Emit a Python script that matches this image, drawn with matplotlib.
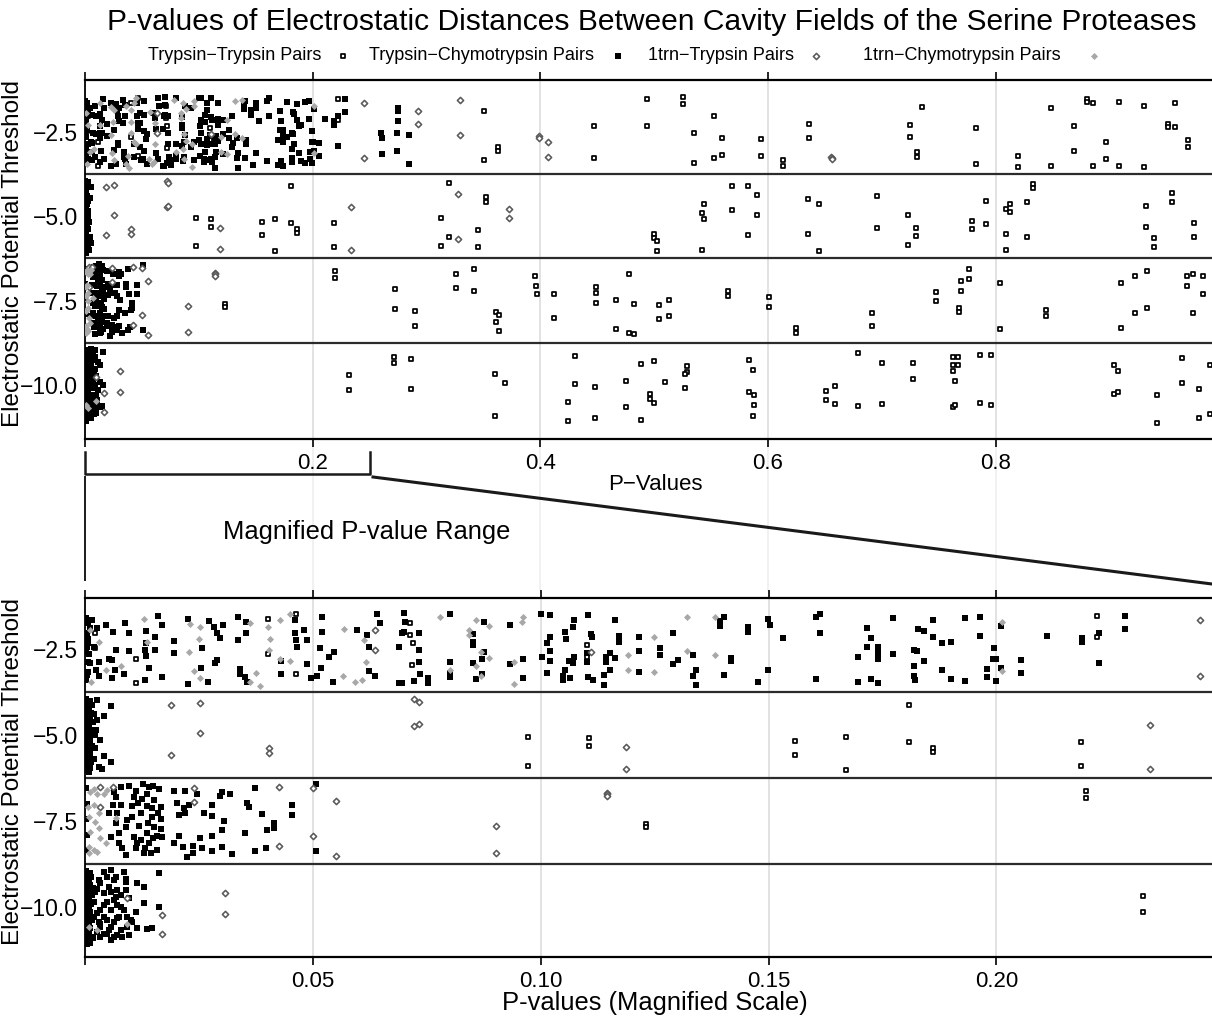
import matplotlib.pyplot as plt
import matplotlib.transforms as mtransforms
from matplotlib.lines import Line2D

plt.rcParams['font.family'] = ['Liberation Sans', 'DejaVu Sans']

# ---- data: (p-value, jittered threshold) ----
# Trypsin-Trypsin pairs (open squares)
TT_POINTS = [
    # -2.5
    (0.0022, -2.04), (0.0021, -2.48), (0.0112, -2.79), (0.0112, -3.50), (0.0402, -1.64), (0.0402, -2.66),
    (0.0462, -1.49), (0.0462, -3.23), (0.0714, -1.75), (0.0714, -2.09), (0.0719, -2.32), (0.0718, -2.97),
    (0.1102, -2.39), (0.1102, -2.74), (0.2221, -1.54), (0.2221, -2.16),
    (0.3502, -1.89), (0.3502, -3.34), (0.3625, -2.95), (0.3625, -3.07), (0.4468, -2.33), (0.4468, -3.28),
    (0.4934, -1.53), (0.4934, -2.33), (0.5251, -1.47), (0.5251, -1.68), (0.5523, -2.03), (0.5347, -2.54),
    (0.5593, -2.69), (0.5523, -3.28), (0.5593, -3.19), (0.5347, -3.42), (0.5936, -2.71), (0.5936, -3.22),
    (0.6129, -3.34), (0.6129, -3.51), (0.6357, -2.27), (0.6357, -2.69), (0.7350, -1.77), (0.7245, -2.30),
    (0.7245, -2.66), (0.7306, -3.10), (0.7306, -3.25), (0.7825, -2.39), (0.7825, -3.45), (0.8194, -3.22),
    (0.8194, -3.54), (0.8484, -1.80), (0.8484, -3.51), (0.8686, -2.33), (0.8686, -3.07), (0.8800, -1.53),
    (0.8800, -1.62), (0.8853, -1.65), (0.8967, -2.80), (0.8967, -3.31), (0.9082, -1.62), (0.9082, -3.51),
    (0.8853, -3.51), (0.9301, -1.74), (0.9301, -3.54), (0.9512, -2.27), (0.9512, -2.36), (0.9574, -1.65),
    (0.9574, -2.36), (0.9688, -2.74), (0.9688, -2.95),
    # -5.0
    (0.0971, -5.05), (0.0971, -5.89), (0.1107, -5.08), (0.1107, -5.33), (0.1558, -5.18), (0.1558, -5.57),
    (0.1670, -5.07), (0.1670, -6.03), (0.1809, -4.12), (0.1809, -5.20), (0.1860, -5.38), (0.1860, -5.50),
    (0.2186, -5.21), (0.2186, -5.91),
    (0.3194, -4.02), (0.3124, -5.05), (0.3194, -5.61), (0.3124, -5.88), (0.3520, -4.43), (0.3520, -4.58),
    (0.3449, -5.41), (0.3449, -5.91), (0.4996, -5.53), (0.4996, -5.64), (0.5022, -5.73), (0.5022, -6.03),
    (0.5435, -4.64), (0.5417, -4.90), (0.5435, -5.08), (0.5417, -6.00), (0.5681, -4.11), (0.5681, -4.82),
    (0.5822, -4.11), (0.5900, -4.37), (0.5900, -4.96), (0.5822, -5.55), (0.6349, -4.49), (0.6445, -4.64),
    (0.6349, -5.53), (0.6445, -6.03), (0.6955, -4.40), (0.6955, -5.35), (0.7228, -4.96), (0.7298, -5.35),
    (0.7298, -5.58), (0.7228, -5.85), (0.7790, -5.14), (0.7790, -5.38), (0.7913, -4.55), (0.7913, -5.23),
    (0.8326, -4.05), (0.8326, -4.16), (0.8273, -4.58), (0.8124, -4.64), (0.8088, -4.79), (0.8124, -4.87),
    (0.8088, -5.53), (0.8088, -6.00), (0.8273, -5.61), (0.9319, -4.70), (0.9319, -5.32), (0.9389, -5.64),
    (0.9389, -5.91), (0.9547, -4.31), (0.9547, -4.58), (0.9741, -5.20), (0.9741, -5.61),
    # -7.5
    (0.1231, -7.60), (0.1231, -7.68), (0.2197, -6.62), (0.2197, -6.84),
    (0.2720, -7.15), (0.2720, -7.74), (0.2895, -7.80), (0.2895, -8.25), (0.3256, -6.71), (0.3256, -7.12),
    (0.3414, -6.56), (0.3414, -7.21), (0.3607, -7.83), (0.3634, -7.92), (0.3607, -8.13), (0.3634, -8.40),
    (0.3950, -6.77), (0.3959, -7.06), (0.3968, -7.30), (0.4117, -7.30), (0.4117, -8.01), (0.4486, -7.09),
    (0.4486, -7.27), (0.4486, -7.57), (0.4662, -7.48), (0.4662, -8.34), (0.4776, -6.71), (0.4820, -7.60),
    (0.4776, -8.45), (0.4820, -8.48), (0.5040, -7.63), (0.5040, -8.04), (0.5128, -7.48), (0.5128, -7.95),
    (0.5646, -7.21), (0.5646, -7.36), (0.6006, -7.39), (0.6006, -7.69), (0.6243, -8.31), (0.6243, -8.45),
    (0.6911, -7.86), (0.6911, -8.25), (0.7473, -7.24), (0.7473, -7.51), (0.7693, -6.92), (0.7693, -7.21),
    (0.7676, -7.71), (0.7676, -7.83), (0.7763, -6.56), (0.7763, -6.86), (0.8036, -6.97), (0.8036, -8.34),
    (0.8440, -7.77), (0.8440, -7.95), (0.9099, -6.97), (0.9099, -8.31), (0.9222, -6.77), (0.9222, -7.86),
    (0.9328, -6.62), (0.9328, -7.71), (0.9680, -6.77), (0.9732, -6.71), (0.9680, -7.06), (0.9820, -6.77),
    (0.9820, -7.30), (0.9732, -7.86),
    # -10.0
    (0.2322, -9.69), (0.2322, -10.15),
    (0.2711, -9.16), (0.2711, -9.34), (0.2860, -9.22), (0.2860, -10.11), (0.3599, -9.67), (0.3686, -9.93),
    (0.3599, -10.91), (0.4301, -9.13), (0.4301, -9.96), (0.4240, -10.50), (0.4240, -11.06), (0.4477, -10.05),
    (0.4477, -10.97), (0.4750, -9.87), (0.4750, -10.64), (0.4882, -9.37), (0.4882, -11.03), (0.4996, -9.28),
    (0.4960, -10.26), (0.4960, -10.41), (0.4996, -10.53), (0.5093, -9.90), (0.5286, -9.43), (0.5286, -9.61),
    (0.5268, -9.67), (0.5268, -10.08), (0.5830, -9.25), (0.5866, -9.55), (0.5830, -10.20), (0.5874, -10.29),
    (0.5874, -10.58), (0.5866, -10.91), (0.6788, -9.05), (0.6999, -9.34), (0.7271, -9.34), (0.7271, -9.82),
    (0.6507, -10.17), (0.6586, -10.02), (0.6507, -10.44), (0.6586, -10.55), (0.6788, -10.61), (0.6999, -10.55),
    (0.7623, -9.16), (0.7667, -9.16), (0.7623, -9.40), (0.7667, -9.40), (0.7623, -9.58), (0.7640, -9.87),
    (0.7623, -10.64), (0.7640, -10.58), (0.7860, -9.11), (0.7957, -9.11), (0.7860, -10.53), (0.7957, -10.58),
    (0.9038, -9.40), (0.9073, -9.58), (0.9038, -10.26), (0.9073, -10.20), (0.9416, -10.29), (0.9416, -11.12),
    (0.9636, -9.19), (0.9636, -9.93), (0.9785, -10.11), (0.9785, -10.97), (0.9882, -9.40), (0.9882, -10.85),
]

# Trypsin-Chymotrypsin pairs (filled black squares)
TC_POINTS = [
    # -2.5
    (0.0006, -1.75), (0.0011, -1.90), (0.0007, -2.22), (0.0006, -2.34), (0.0003, -2.58), (0.0006, -2.87),
    (0.0012, -2.92), (0.0007, -3.16), (0.0003, -3.40), (0.0027, -1.88), (0.0030, -2.87), (0.0025, -3.11),
    (0.0030, -3.30), (0.0005, -2.05), (0.0009, -2.65), (0.0004, -3.25), (0.0020, -2.45), (0.0015, -1.65),
    (0.0002, -1.60), (0.0004, -2.45),
    (0.0047, -1.80), (0.0062, -2.02), (0.0067, -2.53), (0.0060, -2.82), (0.0052, -2.79), (0.0065, -3.11),
    (0.0060, -3.33), (0.0087, -1.75), (0.0096, -2.03), (0.0096, -2.56), (0.0085, -3.24), (0.0133, -1.98),
    (0.0131, -2.53), (0.0134, -2.34), (0.0133, -2.70), (0.0141, -3.06), (0.0131, -3.40), (0.0153, -2.14),
    (0.0160, -1.54), (0.0169, -1.80), (0.0153, -2.53), (0.0170, -3.32), (0.0195, -2.27), (0.0195, -2.63),
    (0.0226, -1.64), (0.0256, -2.46), (0.0255, -3.04), (0.0226, -3.52), (0.0270, -3.45), (0.0272, -1.68),
    (0.0283, -1.85), (0.0303, -1.80), (0.0290, -2.04), (0.0297, -2.19), (0.0290, -2.82), (0.0286, -2.90),
    (0.0335, -1.56), (0.0335, -2.24), (0.0354, -1.71), (0.0354, -2.04), (0.0341, -3.09), (0.0340, -3.24),
    (0.0352, -3.32), (0.0356, -3.45), (0.0430, -2.85), (0.0430, -3.24), (0.0460, -1.66), (0.0460, -2.03),
    (0.0480, -1.95), (0.0462, -2.24), (0.0465, -2.43), (0.0487, -2.24), (0.0487, -2.95), (0.0496, -3.33),
    (0.0508, -3.30), (0.0517, -3.06), (0.0520, -1.58), (0.0520, -2.00), (0.0515, -2.48), (0.0536, -2.72),
    (0.0546, -2.58), (0.0544, -3.45), (0.0597, -1.95), (0.0619, -2.09), (0.0623, -2.43), (0.0623, -3.13),
    (0.0637, -3.30), (0.0641, -1.49), (0.0648, -1.75), (0.0688, -3.50), (0.0688, -2.43),
    (0.0700, -1.46), (0.0703, -1.71), (0.0700, -2.00), (0.0696, -2.04), (0.0696, -3.50), (0.0732, -2.04),
    (0.0732, -2.53), (0.0732, -2.87), (0.0735, -3.24), (0.0721, -3.43), (0.0752, -3.35), (0.0752, -3.48),
    (0.0800, -1.49), (0.0800, -2.87), (0.0800, -3.21), (0.0800, -3.32), (0.0851, -2.06), (0.0851, -2.29),
    (0.0851, -2.39), (0.0875, -1.73), (0.0875, -2.60), (0.0851, -2.92), (0.0872, -2.79), (0.0872, -3.24),
    (0.0859, -3.38), (0.0932, -1.80), (0.0932, -2.95), (0.0961, -2.80), (0.0961, -3.35), (0.1001, -1.49),
    (0.1020, -1.51), (0.1014, -2.32), (0.1020, -2.16), (0.1020, -2.55), (0.1002, -2.74), (0.1020, -2.85),
    (0.1013, -3.21), (0.1053, -2.02), (0.1056, -2.22), (0.1070, -1.87), (0.1074, -1.66), (0.1074, -2.72),
    (0.1063, -2.85), (0.1070, -2.90), (0.1053, -3.11), (0.1048, -3.30), (0.1048, -3.40), (0.1064, -3.35),
    (0.1104, -1.51), (0.1102, -2.61), (0.1102, -2.87), (0.1110, -2.07), (0.1113, -2.16), (0.1104, -3.32),
    (0.1114, -3.40), (0.1138, -3.26), (0.1138, -3.56), (0.1151, -2.63), (0.1144, -2.74), (0.1144, -2.87),
    (0.1151, -3.11), (0.1164, -1.66), (0.1164, -2.77), (0.1172, -2.11), (0.1171, -2.31), (0.1215, -2.14),
    (0.1215, -2.56), (0.1215, -3.16), (0.1261, -2.46), (0.1261, -2.69), (0.1290, -2.04), (0.1290, -2.94),
    (0.1301, -2.82), (0.1334, -2.68), (0.1340, -3.12), (0.1334, -3.29), (0.1340, -3.56), (0.1393, -1.68),
    (0.1393, -1.83), (0.1402, -1.58), (0.1402, -3.27), (0.1418, -2.75), (0.1418, -2.85), (0.1455, -1.85),
    (0.1455, -2.00), (0.1476, -3.47), (0.1498, -1.64), (0.1504, -1.80), (0.1498, -3.12), (0.1531, -2.18),
    (0.1603, -1.58), (0.1612, -1.49), (0.1612, -2.04), (0.1603, -3.38), (0.1696, -2.74), (0.1696, -3.47),
    (0.1715, -1.90), (0.1724, -2.19), (0.1715, -2.45), (0.1739, -2.45), (0.1739, -2.63), (0.1739, -2.80),
    (0.1724, -3.38), (0.1739, -3.50), (0.1772, -1.61), (0.1772, -2.66), (0.1818, -2.53), (0.1826, -2.57),
    (0.1818, -3.00), (0.1818, -3.28), (0.1821, -3.40), (0.1827, -1.93), (0.1840, -1.99), (0.1840, -2.86),
    (0.1860, -1.67), (0.1860, -2.16), (0.1880, -2.34), (0.1880, -3.12), (0.1900, -2.31), (0.1900, -3.38),
    (0.1930, -1.61), (0.1930, -3.44), (0.1965, -1.58), (0.1965, -2.12), (0.1994, -2.48), (0.1992, -2.80),
    (0.1999, -2.80), (0.1979, -3.09), (0.1979, -3.32), (0.1998, -3.44), (0.2009, -1.84), (0.2009, -3.06),
    (0.2053, -2.83), (0.2053, -3.21), (0.2110, -2.12), (0.2187, -2.19), (0.2187, -2.31), (0.2226, -2.04),
    (0.2226, -2.92), (0.2281, -1.54), (0.2281, -1.93),
    (0.2746, -1.80), (0.2746, -1.89), (0.2746, -2.18), (0.2737, -2.54), (0.2843, -2.60), (0.2605, -2.69),
    (0.2597, -2.54), (0.2605, -3.16), (0.2737, -3.07), (0.2843, -3.45),
    # -5.0
    (0.0003, -3.95), (0.0010, -4.00), (0.0006, -4.07), (0.0015, -4.12), (0.0002, -4.18), (0.0009, -4.24),
    (0.0004, -4.30), (0.0013, -4.36), (0.0007, -4.41), (0.0002, -4.47), (0.0011, -4.53), (0.0005, -4.58),
    (0.0017, -4.63), (0.0003, -4.69), (0.0009, -4.75), (0.0006, -4.81), (0.0014, -4.86), (0.0002, -4.92),
    (0.0008, -4.98), (0.0004, -5.04), (0.0012, -5.10), (0.0006, -5.15), (0.0002, -5.21), (0.0010, -5.27),
    (0.0016, -5.32), (0.0004, -5.38), (0.0008, -5.44), (0.0002, -5.50), (0.0012, -5.55), (0.0005, -5.61),
    (0.0009, -5.67), (0.0003, -5.73), (0.0014, -5.79), (0.0007, -5.85), (0.0002, -5.91), (0.0011, -5.96),
    (0.0005, -6.02), (0.0009, -6.08), (0.0020, -4.40), (0.0022, -5.00), (0.0019, -5.70), (0.0024, -4.85),
    (0.0056, -4.15), (0.0041, -4.45), (0.0027, -4.56), (0.0034, -5.16), (0.0041, -5.60), (0.0056, -5.78),
    (0.0038, -6.00), (0.0027, -3.98), (0.0023, -5.39), (0.0030, -5.92),
    # -7.5
    (0.0003, -6.55), (0.0004, -7.00), (0.0002, -7.45), (0.0005, -7.90), (0.0003, -8.35),
    (0.0078, -6.50), (0.0096, -6.48), (0.0111, -6.62), (0.0127, -6.42), (0.0140, -6.52), (0.0150, -6.48),
    (0.0162, -6.58), (0.0063, -6.65), (0.0067, -6.79), (0.0062, -7.04), (0.0080, -7.02), (0.0103, -7.06),
    (0.0116, -6.97), (0.0125, -6.87), (0.0136, -7.06), (0.0152, -6.89), (0.0147, -7.11), (0.0160, -7.28),
    (0.0167, -7.45), (0.0052, -7.26), (0.0071, -7.28), (0.0093, -7.47), (0.0091, -7.67), (0.0118, -7.65),
    (0.0138, -7.57), (0.0151, -7.68), (0.0166, -7.74), (0.0056, -7.96), (0.0074, -8.15), (0.0091, -8.48),
    (0.0107, -7.96), (0.0114, -8.13), (0.0122, -8.05), (0.0131, -8.27), (0.0141, -8.13), (0.0150, -7.99),
    (0.0158, -7.94), (0.0169, -7.96), (0.0195, -6.62), (0.0219, -6.63), (0.0246, -6.70), (0.0301, -6.65),
    (0.0319, -6.72), (0.0297, -6.77), (0.0202, -6.99), (0.0217, -7.13), (0.0228, -7.02), (0.0206, -7.33),
    (0.0220, -7.28), (0.0261, -7.28), (0.0279, -7.02), (0.0279, -7.35), (0.0306, -7.49), (0.0356, -6.99),
    (0.0359, -7.08), (0.0389, -7.30), (0.0454, -7.03), (0.0454, -7.31), (0.0206, -7.94), (0.0195, -8.15),
    (0.0215, -8.25), (0.0237, -8.23), (0.0237, -8.42), (0.0253, -8.00), (0.0257, -8.27), (0.0279, -7.94),
    (0.0279, -8.37), (0.0301, -7.76), (0.0301, -8.25), (0.0323, -8.46), (0.0352, -7.86), (0.0374, -8.37),
    (0.0398, -8.29), (0.0400, -7.76), (0.0414, -7.57), (0.0414, -7.71), (0.0374, -6.55), (0.0506, -8.37),
    (0.0506, -6.43), (0.0224, -8.54), (0.0089, -8.49), (0.0144, -8.42), (0.0129, -8.44), (0.0103, -7.37),
    (0.0122, -7.28), (0.0074, -7.86), (0.0136, -7.86), (0.0158, -8.34), (0.0111, -8.29), (0.0082, -8.29),
    (0.0067, -7.57), (0.0147, -7.37), (0.0166, -7.08), (0.0107, -6.79), (0.0136, -6.70),
    # -10.0
    (0.0003, -8.95), (0.0010, -9.00), (0.0006, -9.06), (0.0014, -9.12), (0.0002, -9.18), (0.0009, -9.24),
    (0.0004, -9.30), (0.0012, -9.36), (0.0007, -9.42), (0.0002, -9.48), (0.0011, -9.54), (0.0005, -9.60),
    (0.0016, -9.66), (0.0003, -9.72), (0.0009, -9.78), (0.0006, -9.84), (0.0013, -9.90), (0.0002, -9.96),
    (0.0008, -10.02), (0.0004, -10.08), (0.0012, -10.14), (0.0006, -10.20), (0.0002, -10.26), (0.0010, -10.32),
    (0.0015, -10.38), (0.0004, -10.44), (0.0008, -10.50), (0.0002, -10.56), (0.0012, -10.62), (0.0005, -10.68),
    (0.0009, -10.74), (0.0003, -10.80), (0.0014, -10.86), (0.0007, -10.92), (0.0002, -10.98), (0.0011, -11.03),
    (0.0005, -11.07), (0.0018, -9.45), (0.0020, -10.30), (0.0017, -10.90),
    (0.0041, -8.97), (0.0056, -8.92), (0.0049, -9.12), (0.0063, -9.22), (0.0034, -9.31), (0.0071, -9.51),
    (0.0041, -9.60), (0.0027, -9.46), (0.0063, -9.80), (0.0049, -9.85), (0.0078, -9.99), (0.0056, -10.09),
    (0.0041, -10.28), (0.0071, -10.33), (0.0034, -10.48), (0.0056, -10.57), (0.0078, -10.67), (0.0093, -10.57),
    (0.0041, -10.77), (0.0056, -10.96), (0.0027, -10.72), (0.0085, -8.97), (0.0091, -9.17), (0.0114, -9.31),
    (0.0129, -9.41), (0.0096, -9.73), (0.0111, -10.14), (0.0129, -9.89), (0.0162, -9.02), (0.0162, -9.99),
    (0.0100, -10.38), (0.0114, -10.62), (0.0136, -10.65), (0.0147, -10.62), (0.0096, -10.81), (0.0089, -9.26),
    (0.0071, -10.81), (0.0067, -9.70), (0.0078, -9.65), (0.0019, -9.85), (0.0023, -9.55), (0.0030, -9.22),
    (0.0034, -10.09), (0.0041, -9.94), (0.0030, -10.43), (0.0049, -10.38), (0.0063, -10.43), (0.0034, -10.57),
    (0.0049, -10.77), (0.0063, -10.86), (0.0034, -10.86), (0.0027, -10.18), (0.0085, -10.09), (0.0093, -10.28),
    (0.0103, -10.43), (0.0067, -9.12), (0.0052, -9.41), (0.0074, -10.28), (0.0052, -10.67), (0.0082, -10.86),
    (0.0071, -9.94), (0.0056, -9.55), (0.0089, -9.51),
]

# 1trn-Trypsin pairs (open grey diamonds)
T1_POINTS = [
    # -2.5
    (0.0636, -1.95), (0.0636, -2.53), (0.1110, -2.58), (0.2447, -1.66), (0.2447, -3.28),
    (0.2922, -1.89), (0.2922, -2.27), (0.3291, -1.56), (0.3291, -2.60), (0.3985, -2.63), (0.3985, -2.69),
    (0.4064, -2.80), (0.4064, -3.25), (0.6555, -3.26), (0.6565, -3.29), (0.6560, -3.31),
    # -5.0
    (0.0188, -4.14), (0.0252, -4.08), (0.0252, -4.95), (0.0188, -5.57), (0.0403, -5.39), (0.0403, -5.53),
    (0.0721, -3.96), (0.0732, -4.03), (0.0721, -4.74), (0.0732, -4.69), (0.1187, -5.34), (0.1187, -5.98),
    (0.2336, -4.72), (0.2336, -6.00), (0.3274, -4.34), (0.3274, -5.67), (0.3721, -4.79), (0.3721, -5.05),
    # -7.5
    (0.0033, -6.50), (0.0062, -6.50), (0.0033, -7.08), (0.0239, -6.53), (0.0239, -6.94), (0.0425, -6.50),
    (0.0500, -6.53), (0.0550, -6.92), (0.0500, -7.93), (0.0425, -8.23), (0.0550, -8.52), (0.0902, -7.65),
    (0.0902, -8.43), (0.1146, -6.68), (0.1146, -6.72), (0.1146, -6.76),
    # -10.0
    (0.0168, -10.24), (0.0168, -10.79), (0.0308, -9.58), (0.0308, -10.21), (0.0093, -9.75),
]

# 1trn-Chymotrypsin pairs (filled light grey diamonds)
C1_POINTS = [
    # -2.5
    (0.0012, -1.95), (0.0014, -3.45), (0.0046, -3.11), (0.0129, -1.64), (0.0136, -2.29), (0.0231, -1.78),
    (0.0253, -1.85), (0.0250, -2.22), (0.0229, -2.60), (0.0239, -3.14), (0.0253, -3.33), (0.0362, -1.75),
    (0.0361, -3.45), (0.0384, -3.58), (0.0376, -3.21), (0.0402, -1.85), (0.0406, -2.22), (0.0403, -2.53),
    (0.0427, -1.66), (0.0449, -1.49), (0.0427, -2.79), (0.0449, -2.85), (0.0568, -1.93), (0.0592, -3.45),
    (0.0608, -3.40), (0.0617, -2.87), (0.0612, -2.24), (0.0566, -3.30), (0.0030, -2.30), (0.0080, -3.00),
    (0.0779, -1.56), (0.0800, -3.11), (0.0842, -1.95), (0.0842, -2.09), (0.0859, -1.66), (0.0886, -1.82),
    (0.0869, -2.58), (0.0859, -3.01), (0.0886, -2.77), (0.0869, -3.30), (0.0941, -2.87), (0.0961, -1.58),
    (0.0959, -1.73), (0.0941, -3.53), (0.1191, -2.67), (0.1191, -3.11), (0.1248, -2.14), (0.1248, -3.17),
    (0.1320, -1.58), (0.1320, -2.56), (0.1383, -1.56), (0.1383, -2.68), (0.2012, -1.73), (0.2012, -3.13),
    # -7.5
    (0.0012, -6.65), (0.0019, -6.58), (0.0027, -6.72), (0.0041, -6.70), (0.0049, -6.60), (0.0006, -7.08),
    (0.0019, -7.04), (0.0030, -7.28), (0.0008, -7.37), (0.0023, -7.52), (0.0030, -7.71), (0.0012, -7.81),
    (0.0034, -8.00), (0.0045, -8.15), (0.0008, -8.25), (0.0019, -8.34), (0.0027, -8.39), (0.0008, -8.44),
    (0.0067, -7.42),
    # -10.0
    (0.0027, -10.67), (0.0093, -10.48), (0.0008, -10.57),
]

SERIES_NAMES = ['Trypsin\u2212Trypsin Pairs', 'Trypsin\u2212Chymotrypsin Pairs',
                '1trn\u2212Trypsin Pairs', '1trn\u2212Chymotrypsin Pairs']
THRESHOLDS = [-2.5, -5.0, -7.5, -10.0]
THRESHOLD_LABELS = ['\u22122.5', '\u22125.0', '\u22127.5', '\u221210.0']
BAND_EDGES = [-3.75, -6.25, -8.75]
TOP_TICKS = [0, 0.2, 0.4, 0.6, 0.8]
TOP_TICK_LABELS = ['', '0.2', '0.4', '0.6', '0.8']
BOT_TICKS = [0, 0.05, 0.10, 0.15, 0.20]
BOT_TICK_LABELS = ['', '0.05', '0.10', '0.15', '0.20']
ZOOM_MAX = 0.25

STYLES = [
    dict(marker='s', s=11, facecolors='white', edgecolors='black', linewidths=1.25),
    dict(marker='s', s=18, c='black', linewidths=0),
    dict(marker='D', s=10, facecolors='white', edgecolors='#5a5a5a', linewidths=1.15),
    dict(marker='D', s=13, c='#a8a8a8', linewidths=0),
]
ALL_POINTS = [TT_POINTS, TC_POINTS, T1_POINTS, C1_POINTS]

W, H = 1212, 1021
fig = plt.figure(figsize=(W / 100, H / 100), dpi=100)
ax_top = fig.add_axes([85 / W, 1 - 439 / H, 1 - 85 / W, 359 / H])
ax_bot = fig.add_axes([85 / W, 1 - 957 / H, 1 - 85 / W, 359 / H])


def draw_panel(ax, xlim, ylim, ticks, ticklabels, xlabel, xlabel_size):
    for pts, st in zip(ALL_POINTS, STYLES):
        ax.scatter([p for p, _ in pts], [y for _, y in pts], zorder=3, clip_on=True, **st)
    for b in BAND_EDGES:
        ax.axhline(b, color='#2b2b2b', lw=1.6, zorder=2)
    ax.set_xlim(xlim)
    ax.set_ylim(ylim)
    ax.set_xticks(ticks)
    ax.set_xticklabels(ticklabels, fontsize=16)
    ax.set_yticks(THRESHOLDS)
    ax.set_yticklabels(THRESHOLD_LABELS, fontsize=16.5)
    ax.tick_params(axis='x', direction='out', length=6, width=1.2, pad=4, top=True)
    ax.tick_params(axis='y', length=0, pad=5)
    ax.grid(axis='x', color='#e2e2e2', lw=1.4)
    ax.set_axisbelow(True)
    ax.spines['right'].set_visible(False)
    ax.spines['top'].set_linewidth(1.6)
    ax.spines['bottom'].set_linewidth(1.6)
    ax.spines['left'].set_linewidth(1.3)
    ax.text(0.506, -0.128, xlabel, transform=ax.transAxes, ha='center', va='center',
            fontsize=xlabel_size)
    ax.set_ylabel('Electrostatic Potential Threshold', fontsize=17.5)
    ax.yaxis.set_label_coords(-0.054, 0.518)


draw_panel(ax_top, (0, 0.99), (-11.59, -0.97), TOP_TICKS, TOP_TICK_LABELS, 'P\u2212Values', 16)
draw_panel(ax_bot, (0, 0.2473), (-11.45, -1.02), BOT_TICKS, BOT_TICK_LABELS,
           'P-values (Magnified Scale)', 18.4)

# title and key
fig.text(0.5375, 1 - 22 / H, 'P-values of Electrostatic Distances Between Cavity Fields of the Serine Proteases',
         ha='center', va='center', fontsize=21.6)
key_text_x = [148, 369, 648, 863]
key_mark_x = [343, 618, 816, 1094]
for name, st, tx, mx in zip(SERIES_NAMES, STYLES, key_text_x, key_mark_x):
    fig.text(tx / W, 1 - 56 / H, name, ha='left', va='center', fontsize=13)
    ax_key = fig.add_axes([mx / W - 0.005, 1 - 61 / H, 0.01, 10 / H])
    ax_key.scatter([0], [0], **st)
    ax_key.set_xlim(-1, 1)
    ax_key.set_ylim(-1, 1)
    ax_key.axis('off')

# magnification bracket and connectors (x in top-panel data, y in figure fraction)
tr = mtransforms.blended_transform_factory(ax_top.transData, fig.transFigure)
fy = lambda py: 1 - py / H
lk = dict(color='#1a1a1a', transform=tr, clip_on=False)
fig.add_artist(Line2D([0, 0, ZOOM_MAX, ZOOM_MAX], [fy(452), fy(474), fy(474), fy(452)], lw=1.8, **lk))
fig.add_artist(Line2D([0, 0], [fy(477), fy(580)], lw=1.4, **lk))
fig.add_artist(Line2D([ZOOM_MAX + 0.003, ax_top.get_xlim()[1]], [fy(477), fy(584)], lw=2.2, **lk))
for t in TOP_TICKS[1:]:
    fig.add_artist(Line2D([t, t], [fy(447), fy(590)], lw=1.2, color='#efefef', transform=tr,
                          zorder=0))
fig.text(367 / W, fy(532), 'Magnified P-value Range', ha='center', va='center', fontsize=18.4)

fig.savefig('out.png', dpi=100)
